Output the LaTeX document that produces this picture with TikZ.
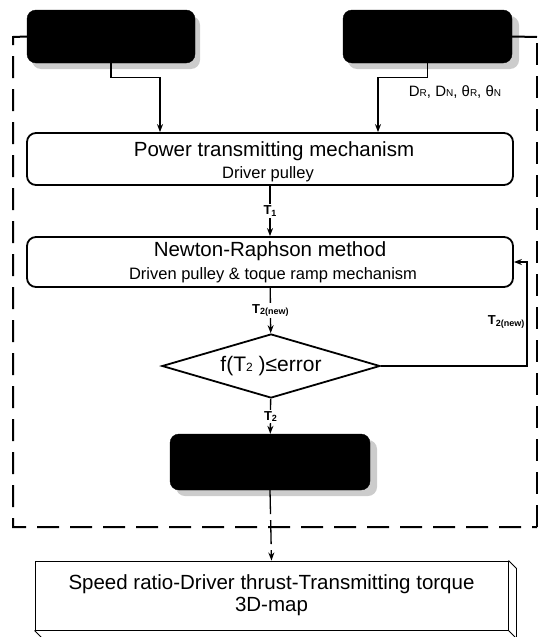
\documentclass[tikz,border=0pt]{standalone}
\usepackage{fontspec}
\setmainfont{Liberation Sans}
\usetikzlibrary{shapes.geometric,arrows.meta,calc}
\newcommand{\lsub}[1]{\raisebox{-1.2pt}{\fontsize{9}{10}\selectfont #1}}
\newcommand{\dsub}[1]{{\fontsize{10}{11}\selectfont #1}}
\begin{document}
\begin{tikzpicture}[x=1pt,y=-1pt,
  blackbox/.style={rectangle,rounded corners=9pt,fill=black,draw=black,inner sep=0pt},
  shadowbox/.style={fill=gray!40,rounded corners=9pt},
  procbox/.style={rectangle,rounded corners=9pt,draw=black,line width=1.8pt,minimum width=486pt,inner sep=0pt,align=center},
  arr/.style={line width=1.3pt,-{Stealth[length=8pt,width=6pt]}},
  lbl/.style={fill=white,inner sep=1.5pt,font=\fontsize{13}{14}\selectfont\bfseries},
  frame/.style={line width=2pt,dash pattern=on 22pt off 11pt},
  title/.style={font=\fontsize{20.5}{22}\selectfont},
  sub/.style={font=\fontsize{16.5}{18}\selectfont}]
\useasboundingbox (0,0) rectangle (540,637);

% shadows of black boxes
\fill[shadowbox] (32,16) rectangle (200,69);
\fill[shadowbox] (348,16) rectangle (519,69);
\fill[shadowbox] (176,440) rectangle (377,496);

% black boxes
\node[blackbox,minimum width=168pt,minimum height=53pt] (topL) at (111,36.5) {};
\node[blackbox,minimum width=169pt,minimum height=53pt] (topR) at (427.5,36.5) {};
\node[blackbox,minimum width=200pt,minimum height=56pt] (bbox) at (270,462) {};

% process boxes
\node[procbox,minimum height=52pt] (power) at (270,159) {};
\node[title] at (274,151) {Power transmitting mechanism};
\node[sub] at (268,174) {Driver pulley};

\node[procbox,minimum height=50pt] (newton) at (270,262) {};
\node[title] at (270,251) {Newton-Raphson method};
\node[sub] at (273,275) {Driven pulley \& toque ramp mechanism};

\node[diamond,draw=black,line width=1.8pt,aspect=3,inner sep=0pt,minimum width=218pt,minimum height=64pt,font=\fontsize{21}{23}\selectfont] (dia) at (271,366) {f(T{\fontsize{12}{13}\selectfont 2} )≤error};

% 3D map box
\node[rectangle,draw=black,line width=0.9pt,minimum width=473pt,minimum height=69pt,inner sep=0pt,align=center,font=\fontsize{20.5}{22}\selectfont] (speed) at (271.5,595.5) {Speed ratio-Driver thrust-Transmitting torque\\3D-map};
\draw[line width=0.9pt] (speed.north east) -- ++(8,8) -- ($(speed.south east)+(8pt,-8pt)$) -- ($(speed.south west)+(8pt,-8pt)$) -- (speed.south west);
\draw[line width=0.9pt] (speed.south east) -- ++(8,8);

% dashed frame
\coordinate (fTL) at (13,37);
\coordinate (fBL) at (13,527);
\coordinate (fBR) at (537,527);
\coordinate (fTR) at (537,37);
\draw[frame] (topL.west) -- (fTL) -- (fBL) -- (fBR);
\draw[line width=2pt] (topR.east) -- (fTR);
\draw[frame] (537,43) -- (fBR);

% connectors
\draw[arr] (topL.south) -- ++(0,14) -| ([xshift=-110pt]power.north);
\draw[arr] (topR.south) -- ++(0,14) -| ([xshift=108pt]power.north);
\node[font=\fontsize{15}{16}\selectfont] (dlab) at (455,92) {D\dsub{R}, D\dsub{N}, θ\dsub{R}, θ\dsub{N}};

\draw[arr] (power) -- node[lbl] {T\lsub{1}} (newton);
\draw[arr] (newton) -- node[lbl] {T\lsub{2(new)}} (dia);
\draw[arr] (dia) -- node[lbl] {T\lsub{2}} (bbox);

\coordinate (fb) at (527,366);
\draw[arr] (dia.east) -- (fb) |- (newton.east);
\node[lbl,anchor=east,fill=none] at (526,322) {T\lsub{2(new)}};

\draw[line width=1.3pt,dash pattern=on 24pt off 6pt,-{Stealth[length=8pt,width=6pt]}] (bbox.south) -- (speed.north);
\end{tikzpicture}
\end{document}
